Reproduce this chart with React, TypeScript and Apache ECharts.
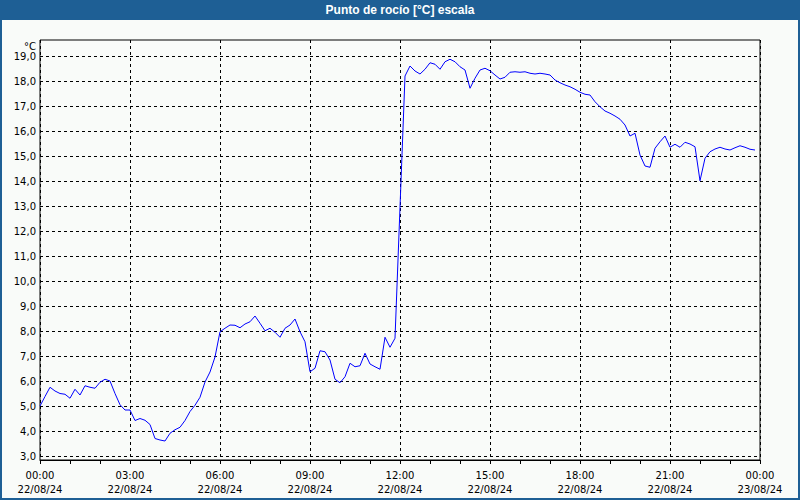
import React, { useEffect, useRef } from "react";
import * as echarts from "echarts";

const title = "Punto de rocío [°C] escala";
const unit = "°C";
const startDate = "22/08/24";
const endDate = "23/08/24";
const stepMinutes = 10;
// Dew point values every 10 minutes from 00:00 to 23:50
const dewPoint = [
  5.0, 5.38, 5.75, 5.6, 5.5, 5.47, 5.31, 5.67, 5.44, 5.81, 5.75, 5.71,
  5.95, 6.07, 6.0, 5.5, 5.05, 4.84, 4.84, 4.42, 4.5, 4.43, 4.26, 3.7,
  3.64, 3.6, 3.91, 4.05, 4.15, 4.42, 4.78, 5.03, 5.35, 5.96, 6.36, 6.96,
  7.97, 8.11, 8.24, 8.23, 8.13, 8.28, 8.37, 8.6, 8.31, 8.01, 8.11, 7.95,
  7.75, 8.11, 8.24, 8.48, 7.97, 7.57, 6.37, 6.51, 7.21, 7.17, 6.84, 6.07,
  5.93, 6.17, 6.71, 6.57, 6.61, 7.11, 6.68, 6.57, 6.47, 7.75, 7.35, 7.71,
  12.95, 18.2, 18.6, 18.4, 18.28, 18.47, 18.73, 18.67, 18.47, 18.77, 18.87, 18.77,
  18.57, 18.44, 17.71, 18.11, 18.44, 18.51, 18.41, 18.24, 18.08, 18.15, 18.35, 18.37,
  18.35, 18.37, 18.31, 18.28, 18.31, 18.28, 18.24, 18.04, 17.93, 17.84, 17.77, 17.67,
  17.55, 17.47, 17.44, 17.17, 16.97, 16.8, 16.71, 16.6, 16.47, 16.24, 15.8, 15.91,
  15.04, 14.6, 14.55, 15.31, 15.57, 15.8, 15.35, 15.47, 15.35, 15.55, 15.48, 15.37,
  14.01, 14.91, 15.17, 15.28, 15.35, 15.28, 15.24, 15.33, 15.41, 15.35, 15.27, 15.24,
];
const yTickMin = 3;
const yTickMax = 19;
const xMinutesMax = 1440;
const xLabelStep = 180;

export default function App() {
  const ref = useRef<HTMLDivElement>(null);
  useEffect(() => {
    if (!ref.current) return;
    const chart = echarts.init(ref.current, null, { renderer: "svg" });
    const font = "DejaVu Sans";
    const seriesData = dewPoint.map((v, i) => [i * stepMinutes, v]);
    const pad = (n: number) => (n < 10 ? "0" + n : "" + n);
    chart.setOption({
      animation: false,
      backgroundColor: "#f9fbf9",
      grid: [
        { left: 40, right: 40, top: 40, bottom: 40, show: true, borderColor: "#000", borderWidth: 1, backgroundColor: "transparent" },
        { left: 40, right: 40, top: 56, bottom: 44, show: false },
      ],
      xAxis: [
        {
          gridIndex: 0,
          type: "value",
          min: 0,
          max: xMinutesMax,
          interval: xLabelStep,
          axisLine: { show: true, lineStyle: { color: "#000", width: 1 } },
          axisTick: { show: true, length: 4, lineStyle: { color: "#000" } },
          minorTick: { show: true, splitNumber: 3, length: 4, lineStyle: { color: "#000" } },
          splitLine: { show: true, lineStyle: { color: "#000", type: [3, 3], width: 1 } },
          axisLabel: {
            color: "#000",
            fontFamily: font,
            fontSize: 10,
            lineHeight: 14,
            margin: 8,
            showMinLabel: true,
            showMaxLabel: true,
            formatter: (v: number) => {
              const h = Math.floor(v / 60) % 24;
              const m = v % 60;
              const d = v >= xMinutesMax ? endDate : startDate;
              return pad(h) + ":" + pad(m) + "\n" + d;
            },
          },
        },
        { gridIndex: 1, type: "value", min: 0, max: xMinutesMax, show: false },
      ],
      yAxis: [
        {
          gridIndex: 0,
          type: "value",
          min: yTickMin - 4 / 25,
          max: yTickMax + 16 / 25,
          show: false,
          splitLine: { show: false },
        },
        {
          gridIndex: 1,
          type: "value",
          min: yTickMin,
          max: yTickMax,
          interval: 1,
          axisLine: { show: false },
          axisTick: { show: false },
          splitLine: { show: true, lineStyle: { color: "#000", type: [3, 3], width: 1 } },
          axisLabel: {
            color: "#000",
            fontFamily: font,
            fontSize: 10,
            margin: 4,
            formatter: (v: number) => v.toFixed(1).replace(".", ","),
          },
        },
      ],
      series: [
        {
          type: "line",
          xAxisIndex: 0,
          yAxisIndex: 0,
          data: seriesData,
          showSymbol: false,
          symbol: "none",
          lineStyle: { color: "#0000ff", width: 1 },
          z: 5,
        },
      ],
      graphic: [
        { type: "rect", shape: { x: 0, y: 0, width: 800, height: 20 }, style: { fill: "#1e5f95" }, z: 100 },
        { type: "rect", shape: { x: 1, y: 1, width: 798, height: 498 }, style: { fill: "none", stroke: "#1e5f95", lineWidth: 2 }, z: 100 },
        {
          type: "text",
          x: 400,
          y: 10,
          z: 101,
          style: { text: title, fill: "#fff", font: "bold 12px 'Liberation Sans'", align: "center", verticalAlign: "middle" },
        },
        {
          type: "text",
          x: 36,
          y: 46,
          z: 101,
          style: { text: unit, fill: "#000", font: "10px 'DejaVu Sans'", align: "right", verticalAlign: "middle" },
        },
      ],
    });
    return () => chart.dispose();
  }, []);
  return <div ref={ref} style={{ position: "fixed", left: 0, top: 0, width: 800, height: 500 }} />;
}
